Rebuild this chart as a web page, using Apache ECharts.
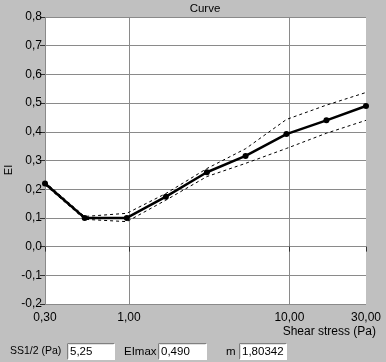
<!DOCTYPE html>
<html><head><meta charset="utf-8">
<script src="https://cdn.jsdelivr.net/npm/echarts@6/dist/echarts.min.js"></script>
<style>html,body{margin:0;padding:0;background:#c0c0c0;}#c{width:386px;height:362px;}</style>
</head><body><div id="c"></div>
<script>
const shearStress = [0.3, 0.53, 0.97, 1.7, 3.06, 5.33, 9.58, 17.0, 30];
const eiValues   = [0.22, 0.10, 0.10, 0.174, 0.259, 0.316, 0.392, 0.44, 0.49];
const eiUpper    = [0.225, 0.105, 0.116, 0.185, 0.272, 0.341, 0.443, 0.493, 0.537];
const eiLower    = [0.215, 0.095, 0.087, 0.162, 0.244, 0.290, 0.342, 0.395, 0.440];
const fieldLabels = ['SS1/2 (Pa)', 'EImax', 'm'];
const fieldValues = ['5,25', '0,490', '1,80342'];

const FONT = 'Liberation Sans, Arial, sans-serif';
const pairs = (ys) => shearStress.map((x, i) => [x, ys[i]]);
const chart = echarts.init(document.getElementById('c'), null, {renderer: 'canvas'});

function field(x, w, text) {
  return {
    type: 'group', children: [
      {type: 'rect', shape: {x: x, y: 343, width: w, height: 17}, style: {fill: '#ffffff'}},
      {type: 'polyline', shape: {points: [[x + 0.5, 359.5], [x + 0.5, 343.5], [x + w - 0.5, 343.5]]}, style: {stroke: '#808080', fill: null, lineWidth: 1}},
      {type: 'polyline', shape: {points: [[x + 1.5, 358.5], [x + 1.5, 344.5], [x + w - 1.5, 344.5]]}, style: {stroke: '#e0e0e0', fill: null, lineWidth: 1}},
      {type: 'text', x: x + 3, y: 351.5, style: {text: text, font: '11.5px ' + FONT, fill: '#000', verticalAlign: 'middle', align: 'left'}}
    ]
  };
}

chart.setOption({
  backgroundColor: '#c0c0c0',
  animation: false,
  title: {text: 'Curve', left: 205, top: 3, padding: 0, textAlign: 'center',
    textStyle: {fontSize: 11.5, fontWeight: 'normal', color: '#000', fontFamily: FONT}},
  grid: {left: 45, right: 20, top: 17, bottom: 58, backgroundColor: '#ffffff', show: true, borderWidth: 0,
    containLabel: false, outerBoundsMode: 'none'},
  xAxis: {
    type: 'log', min: 0.3, max: 30, logBase: 10,
    axisLine: {show: false},
    axisTick: {show: true, length: 5, lineStyle: {color: '#303030'}},
    axisLabel: {color: '#000', fontSize: 12, fontFamily: FONT, margin: 8,
      formatter: v => Number(v).toFixed(2).replace('.', ','),
      showMinLabel: true, showMaxLabel: true},
    splitLine: {show: true, showMinLine: true, showMaxLine: false, lineStyle: {color: '#8a8a8a', width: 1}},
    minorTick: {show: false}
  },
  yAxis: {
    type: 'value', min: -0.2, max: 0.8, interval: 0.1,
    axisLine: {show: false},
    axisTick: {show: true, length: 5, lineStyle: {color: '#303030'}},
    axisLabel: {color: '#000', fontSize: 12, fontFamily: FONT, margin: 3,
      formatter: v => (Math.round(v * 10) / 10).toFixed(1).replace('.', ',')},
    splitLine: {show: true, lineStyle: {color: '#8a8a8a', width: 1}}
  },
  series: [
    {type: 'line', data: pairs(eiUpper), symbol: 'none', z: 2,
      lineStyle: {color: '#000', width: 1, type: [3, 3]}},
    {type: 'line', data: pairs(eiLower), symbol: 'none', z: 2,
      lineStyle: {color: '#000', width: 1, type: [3, 3]}},
    {type: 'line', data: pairs(eiValues), symbol: 'circle', symbolSize: 6, z: 3,
      itemStyle: {color: '#000'}, lineStyle: {color: '#000', width: 2.5}}
  ],
  graphic: [
    {type: 'text', x: 9, y: 170, rotation: Math.PI / 2,
      style: {text: 'EI', font: '11px ' + FONT, fill: '#000', align: 'center', verticalAlign: 'middle'}},
    {type: 'text', right: 10, top: 326, style: {text: 'Shear stress (Pa)', font: '12px ' + FONT, fill: '#000'}},
    {type: 'text', x: 10, y: 351.5, style: {text: fieldLabels[0], font: '10.5px ' + FONT, fill: '#000', verticalAlign: 'middle'}},
    field(67, 48, fieldValues[0]),
    {type: 'text', x: 124, y: 351.5, style: {text: fieldLabels[1], font: '11.5px ' + FONT, fill: '#000', verticalAlign: 'middle'}},
    field(158, 49, fieldValues[1]),
    {type: 'text', x: 226, y: 351.5, style: {text: fieldLabels[2], font: '11.5px ' + FONT, fill: '#000', verticalAlign: 'middle'}},
    field(239, 48, fieldValues[2])
  ]
});
</script></body></html>
